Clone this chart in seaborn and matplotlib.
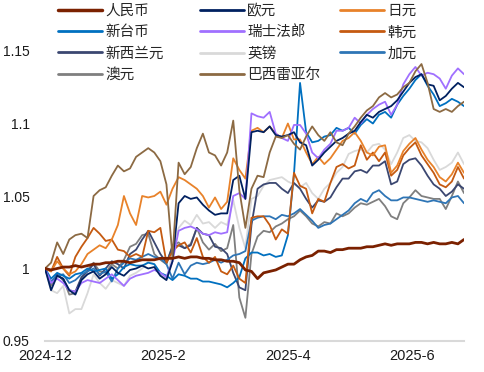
import matplotlib
matplotlib.use("Agg")
import matplotlib.pyplot as plt
import matplotlib.ticker as mticker
from matplotlib.lines import Line2D
import numpy as np
import pandas as pd
import seaborn as sns

# 各币种兑美元走势（期初=1）
tick_labels = ["2024-12", "2025-2", "2025-4", "2025-6"]
tick_pos = [0, 19.45, 40.0, 60.45]

cny = [1.000, 0.999, 1.000, 1.001, 1.001, 1.002, 1.001, 1.002, 1.003, 1.003,
       1.004, 1.004, 1.005, 1.005, 1.004, 1.005, 1.006, 1.006, 1.006, 1.007,
       1.007, 1.007, 1.008, 1.007, 1.008, 1.008, 1.007, 1.007, 1.006, 1.006,
       1.005, 1.005, 1.004, 0.999, 0.998, 0.993, 0.997, 0.998, 0.999, 1.001,
       1.003, 1.003, 1.006, 1.008, 1.009, 1.012, 1.012, 1.011, 1.013, 1.013,
       1.014, 1.014, 1.014, 1.015, 1.015, 1.016, 1.017, 1.016, 1.017, 1.017,
       1.017, 1.018, 1.018, 1.017, 1.018, 1.017, 1.017, 1.018, 1.017, 1.020]
eur = [1.000, 0.985, 0.995, 0.993, 0.985, 0.982, 0.992, 0.996, 0.998, 0.993,
       0.996, 1.001, 0.997, 0.995, 0.999, 1.000, 1.002, 1.000, 1.001, 0.995,
       0.992, 1.005, 1.045, 1.050, 1.048, 1.049, 1.044, 1.040, 1.037, 1.038,
       1.038, 1.061, 1.064, 1.048, 1.094, 1.095, 1.094, 1.098, 1.092, 1.091,
       1.092, 1.094, 1.087, 1.085, 1.071, 1.075, 1.080, 1.084, 1.088, 1.090,
       1.093, 1.095, 1.101, 1.106, 1.104, 1.108, 1.110, 1.112, 1.116, 1.122,
       1.128, 1.132, 1.134, 1.127, 1.126, 1.116, 1.119, 1.124, 1.128, 1.125]
jpy = [1.000, 0.998, 1.005, 1.000, 0.996, 0.998, 1.003, 1.010, 1.013, 1.016,
       1.014, 1.020, 1.030, 1.050, 1.038, 1.030, 1.050, 1.049, 1.050, 1.053,
       1.044, 1.055, 1.063, 1.061, 1.058, 1.055, 1.050, 1.042, 1.049, 1.041,
       1.046, 1.076, 1.068, 1.062, 1.095, 1.097, 1.094, 1.098, 1.093, 1.090,
       1.100, 1.089, 1.089, 1.080, 1.072, 1.077, 1.072, 1.076, 1.082, 1.088,
       1.090, 1.094, 1.088, 1.080, 1.078, 1.084, 1.085, 1.066, 1.071, 1.081,
       1.086, 1.090, 1.082, 1.075, 1.070, 1.063, 1.060, 1.065, 1.073, 1.066]
twd = [1.000, 0.993, 0.997, 0.995, 0.993, 0.996, 0.997, 1.000, 0.998, 0.999,
       1.000, 0.993, 0.996, 1.001, 1.003, 1.002, 1.002, 1.004, 1.003, 0.997,
       0.995, 0.992, 0.996, 0.995, 0.993, 0.993, 0.991, 0.991, 0.990, 0.989,
       0.987, 0.990, 0.994, 1.007, 1.011, 1.011, 1.009, 1.010, 1.008, 1.009,
       1.023, 1.065, 1.128, 1.094, 1.087, 1.088, 1.091, 1.092, 1.097, 1.095,
       1.097, 1.093, 1.099, 1.103, 1.100, 1.106, 1.108, 1.104, 1.113, 1.119,
       1.124, 1.130, 1.134, 1.126, 1.120, 1.112, 1.114, 1.117, 1.115, 1.112]
chf = [1.000, 0.990, 0.993, 0.990, 0.985, 0.984, 0.990, 0.992, 0.991, 0.990,
       0.993, 0.996, 0.992, 0.988, 0.993, 0.995, 0.996, 0.997, 0.999, 0.997,
       0.994, 1.005, 1.026, 1.028, 1.029, 1.027, 1.024, 1.023, 1.025, 1.024,
       1.025, 1.050, 1.052, 1.048, 1.107, 1.105, 1.104, 1.108, 1.093, 1.090,
       1.088, 1.099, 1.099, 1.093, 1.080, 1.076, 1.082, 1.086, 1.095, 1.095,
       1.097, 1.104, 1.100, 1.106, 1.110, 1.113, 1.115, 1.106, 1.113, 1.127,
       1.134, 1.139, 1.133, 1.135, 1.134, 1.131, 1.124, 1.133, 1.138, 1.134]
krw = [1.000, 0.998, 1.008, 1.000, 0.995, 1.008, 1.015, 1.021, 1.028, 1.024,
       1.019, 1.020, 1.013, 1.012, 1.008, 1.010, 1.008, 1.026, 1.025, 1.028,
       1.004, 1.012, 1.016, 1.018, 1.011, 1.021, 1.008, 1.004, 1.008, 0.998,
       0.996, 1.002, 0.993, 0.990, 1.035, 1.036, 1.036, 1.030, 1.020, 1.027,
       1.024, 1.066, 1.057, 1.055, 1.038, 1.048, 1.046, 1.059, 1.070, 1.072,
       1.069, 1.071, 1.085, 1.075, 1.080, 1.074, 1.080, 1.064, 1.068, 1.078,
       1.083, 1.087, 1.078, 1.072, 1.066, 1.058, 1.056, 1.060, 1.070, 1.062]
nzd = [1.000, 0.990, 0.996, 0.992, 0.985, 0.984, 0.994, 0.998, 1.003, 0.995,
       1.000, 1.005, 1.003, 1.000, 1.010, 1.013, 1.020, 1.026, 1.018, 1.010,
       1.004, 1.015, 1.016, 1.014, 1.016, 1.028, 1.024, 1.023, 1.015, 1.014,
       1.010, 0.997, 0.987, 0.985, 1.030, 1.055, 1.058, 1.059, 1.059, 1.055,
       1.052, 1.059, 1.055, 1.048, 1.042, 1.047, 1.046, 1.049, 1.056, 1.062,
       1.062, 1.067, 1.068, 1.066, 1.071, 1.071, 1.074, 1.058, 1.060, 1.072,
       1.075, 1.076, 1.071, 1.064, 1.058, 1.055, 1.050, 1.053, 1.058, 1.055]
gbp = [1.000, 0.985, 0.983, 0.988, 0.969, 0.972, 0.972, 0.983, 0.996, 0.990,
       0.986, 0.992, 0.990, 0.988, 0.995, 0.997, 1.000, 1.005, 1.003, 0.996,
       0.993, 1.010, 1.028, 1.033, 1.030, 1.037, 1.031, 1.032, 1.028, 1.032,
       1.030, 1.047, 1.028, 1.014, 1.048, 1.050, 1.057, 1.061, 1.062, 1.063,
       1.060, 1.058, 1.056, 1.059, 1.052, 1.048, 1.055, 1.059, 1.066, 1.070,
       1.079, 1.081, 1.082, 1.080, 1.085, 1.086, 1.082, 1.072, 1.080, 1.090,
       1.092, 1.088, 1.087, 1.083, 1.075, 1.068, 1.070, 1.073, 1.080, 1.072]
cad = [1.000, 0.991, 0.995, 0.996, 0.990, 0.992, 0.996, 0.998, 1.000, 0.996,
       0.998, 0.991, 1.000, 1.004, 1.007, 1.006, 1.008, 1.010, 1.008, 1.007,
       1.003, 0.993, 1.004, 0.996, 1.002, 1.004, 1.003, 1.004, 1.006, 1.004,
       1.006, 1.009, 1.010, 1.012, 1.033, 1.035, 1.036, 1.036, 1.034, 1.037,
       1.036, 1.038, 1.041, 1.037, 1.033, 1.028, 1.030, 1.031, 1.034, 1.037,
       1.040, 1.045, 1.048, 1.046, 1.052, 1.054, 1.050, 1.047, 1.047, 1.049,
       1.049, 1.048, 1.047, 1.046, 1.047, 1.046, 1.045, 1.049, 1.050, 1.045]
aud = [1.000, 0.988, 0.995, 0.993, 0.982, 0.983, 0.993, 0.999, 1.004, 0.998,
       0.997, 1.003, 1.000, 1.006, 1.015, 1.017, 1.023, 1.024, 1.010, 1.006,
       1.003, 1.016, 1.018, 1.014, 1.017, 1.028, 1.018, 1.013, 1.017, 1.012,
       1.014, 1.030, 0.980, 0.966, 1.010, 1.022, 1.026, 1.025, 1.029, 1.031,
       1.034, 1.036, 1.040, 1.036, 1.031, 1.029, 1.032, 1.031, 1.038, 1.036,
       1.038, 1.042, 1.045, 1.044, 1.046, 1.048, 1.043, 1.036, 1.034, 1.045,
       1.049, 1.054, 1.050, 1.049, 1.048, 1.048, 1.041, 1.050, 1.060, 1.052]
brl = [1.000, 1.004, 1.018, 1.010, 1.020, 1.023, 1.024, 1.021, 1.050, 1.054,
       1.056, 1.064, 1.071, 1.067, 1.069, 1.077, 1.080, 1.083, 1.080, 1.074,
       1.058, 1.008, 1.073, 1.065, 1.070, 1.083, 1.093, 1.080, 1.078, 1.071,
       1.080, 1.102, 1.054, 1.028, 1.055, 1.064, 1.063, 1.080, 1.091, 1.090,
       1.092, 1.086, 1.082, 1.091, 1.098, 1.092, 1.088, 1.094, 1.087, 1.085,
       1.093, 1.098, 1.104, 1.109, 1.112, 1.118, 1.121, 1.118, 1.120, 1.125,
       1.128, 1.136, 1.141, 1.128, 1.110, 1.108, 1.110, 1.108, 1.112, 1.115]

series = {
    "人民币": cny, "欧元": eur, "日元": jpy,
    "新台币": twd, "瑞士法郎": chf, "韩元": krw,
    "新西兰元": nzd, "英镑": gbp, "加元": cad,
    "澳元": aud, "巴西雷亚尔": brl,
}
colors = {
    "人民币": "#7B2100", "欧元": "#002060", "日元": "#E8822A",
    "新台币": "#0070C0", "瑞士法郎": "#A070FF", "韩元": "#C55A11",
    "新西兰元": "#3B4771", "英镑": "#D9D9D9", "加元": "#2E75B6",
    "澳元": "#7F7F7F", "巴西雷亚尔": "#8C6A43",
}

df = pd.DataFrame(series)
df["idx"] = np.arange(len(df))
long = df.melt(id_vars="idx", var_name="币种", value_name="值")

sns.set_style("white")
plt.rcParams["font.family"] = ["Liberation Sans", "Noto Sans CJK SC"]

fig = plt.figure(figsize=(4.85, 3.72), dpi=100)
ax = fig.add_axes([45 / 485, 31 / 372, 419 / 485, 290 / 372])

draw_order = ["英镑", "澳元", "新西兰元", "加元", "新台币", "韩元", "日元",
              "瑞士法郎", "欧元", "巴西雷亚尔", "人民币"]
for name in draw_order:
    sub = long[long["币种"] == name]
    lw = 2.0 if name == "人民币" else 1.3
    sns.lineplot(data=sub, x="idx", y="值", color=colors[name], linewidth=lw,
                 ax=ax, legend=False)

ax.set_xlim(0, len(df) - 1)
ax.set_ylim(0.95, 1.15)
ax.set_yticks([0.95, 1.0, 1.05, 1.1, 1.15])
ax.yaxis.set_major_formatter(mticker.FuncFormatter(lambda v, p: f"{v:g}"))
ax.set_xticks(tick_pos)
ax.set_xticklabels(tick_labels)
ax.set_xlabel("")
ax.set_ylabel("")
for s in ["top", "right", "left"]:
    ax.spines[s].set_visible(False)
ax.spines["bottom"].set_color("#D9D9D9")
ax.spines["bottom"].set_linewidth(1.5)
ax.tick_params(axis="x", direction="in", length=4, color="#D9D9D9",
               width=1.2, pad=6, labelsize=10.5, labelcolor="#1a1a1a")
ax.tick_params(axis="y", length=0, pad=11, labelsize=10, labelcolor="#1a1a1a")

cols = [["人民币", "新台币", "新西兰元", "澳元"],
        ["欧元", "瑞士法郎", "英镑", "巴西雷亚尔"],
        ["日元", "韩元", "加元"]]
col_x = [58, 200, 340]
for names, x0 in zip(cols, col_x):
    handles = [Line2D([], [], color=colors[n],
                      linewidth=2.5 if n == "人民币" else 2.0) for n in names]
    fig.legend(handles, names, loc="upper left",
               bbox_to_anchor=(x0 / 485, 1 - 4 / 372),
               bbox_transform=fig.transFigure, frameon=False,
               fontsize=10.5, handlelength=3.0, handletextpad=0.25,
               labelspacing=0.5, borderpad=0, borderaxespad=0)

fig.savefig("out.png", dpi=100)
